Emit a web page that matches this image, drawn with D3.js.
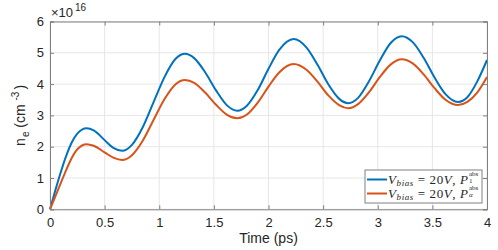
<!DOCTYPE html>
<html>
<head>
<meta charset="utf-8">
<script src="https://cdn.jsdelivr.net/npm/d3@7"></script>
<style>
  body { margin: 0; background: #fff; }
  svg text { font-family: "Liberation Sans", Arial, sans-serif; fill: #262626; }
  .legend text { font-family: "Liberation Serif", "DejaVu Serif", serif; }
</style>
</head>
<body>
<svg id="chart" width="498" height="250"></svg>
<script>
// time axis (ps), shared by both series
var times = [0, 0.05, 0.1, 0.15, 0.2, 0.25, 0.335, 0.4, 0.5, 0.58, 0.66, 0.75, 0.85, 0.95, 1.05, 1.15, 1.235,
    1.32, 1.42, 1.52, 1.62, 1.715, 1.8, 1.9, 2.0, 2.1, 2.23, 2.35, 2.45, 2.55, 2.65, 2.73,
    2.82, 2.92, 3.02, 3.12, 3.22, 3.32, 3.42, 3.52, 3.62, 3.735, 3.82, 3.91, 4.0];

// n_e in units of 1e16 cm^-3
var neP1 = [0, 0.62, 1.2, 1.72, 2.14, 2.42, 2.59, 2.52, 2.21, 1.96, 1.87, 2.06, 2.63, 3.44, 4.24, 4.81, 4.97,
    4.83, 4.38, 3.80, 3.32, 3.15, 3.30, 3.80, 4.49, 5.10, 5.44, 5.16, 4.61, 3.98, 3.52, 3.39,
    3.56, 4.09, 4.76, 5.32, 5.53, 5.34, 4.84, 4.21, 3.68, 3.43, 3.58, 4.08, 4.77];

var nePalpha = [0, 0.42, 0.85, 1.27, 1.65, 1.92, 2.08, 2.03, 1.82, 1.65, 1.575, 1.73, 2.20, 2.87, 3.53, 3.995, 4.13,
    4.04, 3.73, 3.34, 3.02, 2.91, 3.02, 3.40, 3.92, 4.38, 4.64, 4.45, 4.07, 3.63, 3.32, 3.23,
    3.36, 3.74, 4.23, 4.63, 4.79, 4.66, 4.31, 3.87, 3.50, 3.33, 3.43, 3.73, 4.23];

var xTicks = [0, 0.5, 1, 1.5, 2, 2.5, 3, 3.5, 4];
var yTicks = [0, 1, 2, 3, 4, 5, 6];

var seriesNames = ['P1', 'Palpha'];
var seriesColors = ['#0072BD', '#D95319'];

var svg = d3.select('#chart');
var plot = {left: 50, right: 487, top: 21.5, bottom: 209.3};

var x = d3.scaleLinear().domain([0, 4]).range([plot.left, plot.right]);
var y = d3.scaleLinear().domain([0, 6]).range([plot.bottom, plot.top]);

// grid
var grid = svg.append('g').classed('grid', true);
grid.selectAll('line.gx').data(xTicks).enter().append('line')
    .attr('x1', function(d){ return x(d); })
    .attr('x2', function(d){ return x(d); })
    .attr('y1', plot.top).attr('y2', plot.bottom)
    .attr('stroke', '#e6e6e6').attr('stroke-width', 1);
grid.selectAll('line.gy').data(yTicks).enter().append('line')
    .attr('y1', function(d){ return y(d); })
    .attr('y2', function(d){ return y(d); })
    .attr('x1', plot.left).attr('x2', plot.right)
    .attr('stroke', '#e6e6e6').attr('stroke-width', 1);

// series lines
var data = [neP1, nePalpha];
var line = d3.line()
    .x(function(d, i){ return x(times[i]); })
    .y(function(d){ return y(d); })
    .curve(d3.curveMonotoneX);

svg.append('g').selectAll('path').data(data).enter().append('path')
    .attr('d', line)
    .attr('fill', 'none')
    .attr('stroke', function(d, i){ return seriesColors[i]; })
    .attr('stroke-width', 2);

// axes (MATLAB style: inward ticks, box)
var axisColor = '#808080';
var xAxis = svg.append('g')
    .attr('transform', 'translate(0,' + plot.bottom + ')')
    .call(d3.axisBottom(x).tickValues(xTicks).tickSize(-4).tickPadding(8)
        .tickFormat(function(d){ return String(d); }));
var xTop = svg.append('g')
    .attr('transform', 'translate(0,' + plot.top + ')')
    .call(d3.axisTop(x).tickValues(xTicks).tickSize(-4).tickFormat(''));
var yAxis = svg.append('g')
    .attr('transform', 'translate(' + plot.left + ',0)')
    .call(d3.axisLeft(y).tickValues(yTicks).tickSize(-4).tickPadding(6).tickFormat(d3.format('d')));
var yRight = svg.append('g')
    .attr('transform', 'translate(' + plot.right + ',0)')
    .call(d3.axisRight(y).tickValues(yTicks).tickSize(-4).tickFormat(''));

[xAxis, xTop, yAxis, yRight].forEach(function(ax){
    ax.select('.domain').attr('stroke', axisColor);
    ax.selectAll('.tick line').attr('stroke', axisColor);
    ax.selectAll('.tick text').attr('font-size', 13)
        .attr('font-family', '"Liberation Sans", Arial, sans-serif').attr('fill', '#262626');
});

// exponent label
var expo = svg.append('text').attr('x', plot.left + 1).attr('y', 17).attr('font-size', 13);
expo.append('tspan').text('\u00d710');
expo.append('tspan').attr('dx', 2).attr('dy', -6).attr('font-size', 10).text('16');

// axis labels
svg.append('text')
    .attr('x', (plot.left + plot.right) / 2).attr('y', 243)
    .attr('text-anchor', 'middle').attr('font-size', 14)
    .text('Time (ps)');

var yl = svg.append('text')
    .attr('transform', 'translate(25,' + ((plot.top + plot.bottom) / 2) + ') rotate(-90)')
    .attr('text-anchor', 'middle').attr('font-size', 14);
yl.append('tspan').text('n');
yl.append('tspan').attr('dx', 1).attr('dy', 4).attr('font-size', 10).text('e');
yl.append('tspan').attr('dy', -4).text(' (cm ');
yl.append('tspan').attr('dy', -6).attr('font-size', 10).text('-3');
yl.append('tspan').attr('dx', 2).attr('dy', 6).text(')');

// legend
var legend = svg.append('g').classed('legend', true);
var lg = {x: 365, y: 170, w: 117, h: 33};
legend.append('rect')
    .attr('x', lg.x).attr('y', lg.y).attr('width', lg.w).attr('height', lg.h)
    .attr('fill', '#fff').attr('stroke', axisColor).attr('stroke-width', 1);

var subs = ['1', '\u03b1'];
seriesNames.forEach(function(name, i){
    var cy = lg.y + 9.5 + i * 14;
    legend.append('line')
        .attr('x1', lg.x + 2).attr('x2', lg.x + 22)
        .attr('y1', cy).attr('y2', cy)
        .attr('stroke', seriesColors[i]).attr('stroke-width', 2);
    var t = legend.append('text')
        .attr('x', lg.x + 23).attr('y', cy + 4.5).attr('font-size', 13)
        .attr('textLength', 80).attr('lengthAdjust', 'spacing');
    t.append('tspan').attr('font-style', 'italic').text('V');
    t.append('tspan').attr('font-style', 'italic').attr('font-size', 9).attr('dy', 2).text('bias');
    t.append('tspan').attr('dy', -2).text(' = 20');
    t.append('tspan').attr('font-style', 'italic').text('V');
    t.append('tspan').text(', ');
    t.append('tspan').attr('font-style', 'italic').text('P');
    var sx = lg.x + 23 + 81;
    legend.append('text')
        .attr('x', sx).attr('y', cy - 3.5)
        .attr('font-size', 7).text('abs');
    legend.append('text')
        .attr('x', sx).attr('y', cy + 3.8)
        .attr('font-size', 7).attr('font-style', i === 0 ? 'normal' : 'italic')
        .text(subs[i]);
});
</script>
</body>
</html>
